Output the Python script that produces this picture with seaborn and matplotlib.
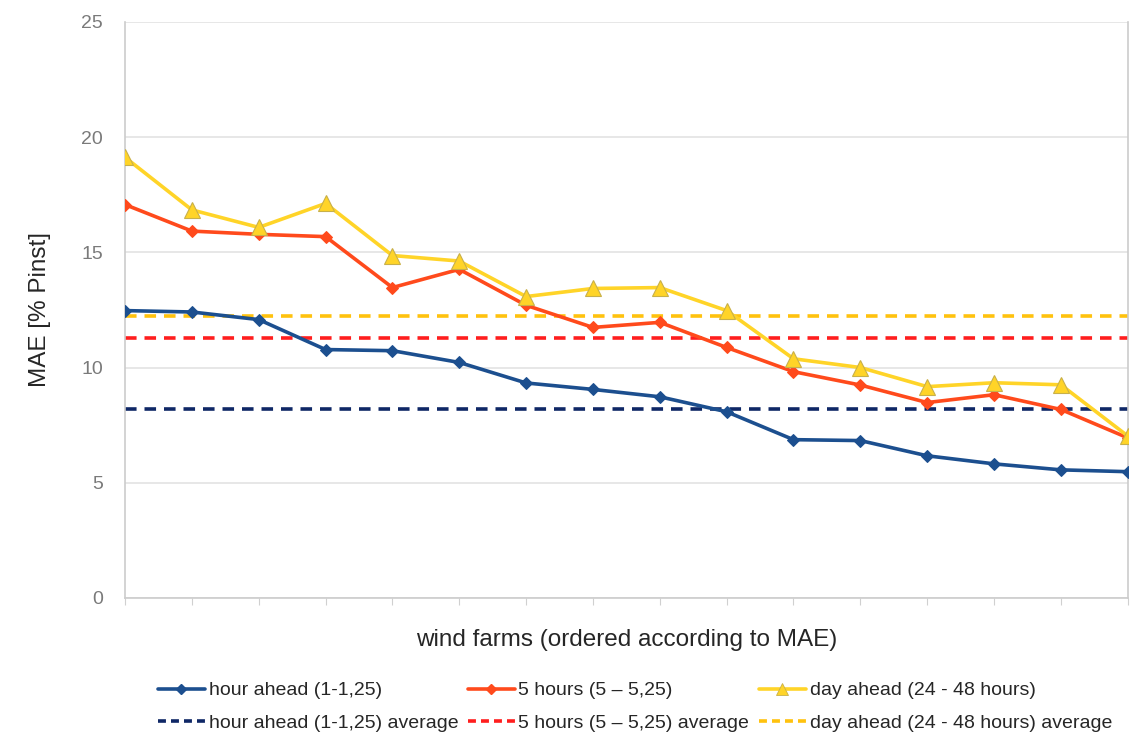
import matplotlib
matplotlib.use("Agg")
import matplotlib.pyplot as plt
import seaborn as sns
import pandas as pd
from matplotlib.lines import Line2D

# ---- data ----
farms = list(range(1, 17))
hour_ahead = [12.47, 12.41, 12.08, 10.78, 10.73, 10.22, 9.33, 9.05, 8.73, 8.08, 6.87, 6.83, 6.17, 5.82, 5.56, 5.48]
five_hours = [17.07, 15.92, 15.78, 15.68, 13.47, 14.26, 12.70, 11.74, 11.96, 10.87, 9.82, 9.24, 8.48, 8.82, 8.18, 6.95]
day_ahead = [19.12, 16.84, 16.08, 17.12, 14.86, 14.62, 13.08, 13.43, 13.47, 12.47, 10.38, 10.00, 9.17, 9.34, 9.25, 7.03]
avg_hour = 8.22
avg_five = 11.30
avg_day = 12.23

labels = ["hour ahead (1-1,25)", "5 hours (5 \u2013 5,25)", "day ahead (24 - 48 hours)",
          "hour ahead (1-1,25) average", "5 hours (5 \u2013 5,25) average", "day ahead (24 - 48 hours) average"]
y_ticks = [0, 5, 10, 15, 20, 25]

c_hour = "#1c4f8f"
c_five = "#ff4a1c"
c_day = "#ffd428"
c_avg_hour = "#0f2766"
c_avg_five = "#ff1e1e"
c_avg_day = "#ffc20e"

sns.set_style("white")
plt.rcParams['font.family'] = ['Liberation Sans', 'DejaVu Sans']

fig = plt.figure(figsize=(11.42, 7.33), dpi=100)
ax = fig.add_axes([0.1095, 0.1842, 0.878, 0.786])

df = pd.DataFrame({"farm": farms, "hour": hour_ahead, "five": five_hours, "day": day_ahead})

for y in y_ticks:
    ax.axhline(y, color="#e0e0e0", lw=1.1, zorder=0)

ax.axhline(avg_day, color=c_avg_day, lw=2.6, ls=(0, (3.2, 2.2)), zorder=2)
ax.axhline(avg_five, color=c_avg_five, lw=2.6, ls=(0, (3.2, 2.2)), zorder=2)
ax.axhline(avg_hour, color=c_avg_hour, lw=2.6, ls=(0, (3.2, 2.2)), zorder=2)

sns.lineplot(data=df, x="farm", y="hour", ax=ax, color=c_hour, lw=2.6, marker="D",
             markersize=6.5, markeredgecolor=c_hour, zorder=4)
sns.lineplot(data=df, x="farm", y="five", ax=ax, color=c_five, lw=2.6, marker="D",
             markersize=6.5, markeredgecolor=c_five, zorder=4)
sns.lineplot(data=df, x="farm", y="day", ax=ax, color=c_day, lw=2.6, marker="^",
             markersize=11, markeredgecolor="#c8b04a", markeredgewidth=0.8, zorder=5)

ax.set_xlim(1, 16)
ax.set_ylim(0, 25)
ax.set_yticks(y_ticks)
ax.set_yticklabels([str(v) for v in y_ticks], color="#7a7a7a", fontsize=14)
ax.set_xticks(farms)
ax.set_xticklabels([])
ax.tick_params(axis="x", length=5, color="#d0d0d0", direction="out", bottom=True)
ax.tick_params(axis="y", length=0, pad=16)

ax.spines["top"].set_visible(False)
for s in ["left", "right", "bottom"]:
    ax.spines[s].set_color("#cccccc")
    ax.spines[s].set_linewidth(1.2)

ax.set_xlabel("wind farms (ordered according to MAE)", fontsize=17.5, labelpad=14)
ax.set_ylabel("MAE [% Pinst]", fontsize=17.5, labelpad=22)

handles = [
    Line2D([], [], color=c_hour, lw=2.6, marker="D", markersize=5),
    Line2D([], [], color=c_avg_hour, lw=2.6, ls=(0, (2.2, 1.4))),
    Line2D([], [], color=c_five, lw=2.6, marker="D", markersize=5),
    Line2D([], [], color=c_avg_five, lw=2.6, ls=(0, (2.2, 1.4))),
    Line2D([], [], color=c_day, lw=2.6, marker="^", markersize=8, markeredgecolor="#c8b04a", markeredgewidth=0.6),
    Line2D([], [], color=c_avg_day, lw=2.6, ls=(0, (2.2, 1.4))),
]
leg_labels = [labels[0], labels[3], labels[1], labels[4], labels[2], labels[5]]
fig.legend(handles, leg_labels, ncol=3, loc="lower center", bbox_to_anchor=(0.556, -0.022),
           frameon=False, fontsize=14, handlelength=2.4, handletextpad=0.2,
           columnspacing=0.5, labelspacing=0.75)

fig.savefig("out.png", dpi=100)
